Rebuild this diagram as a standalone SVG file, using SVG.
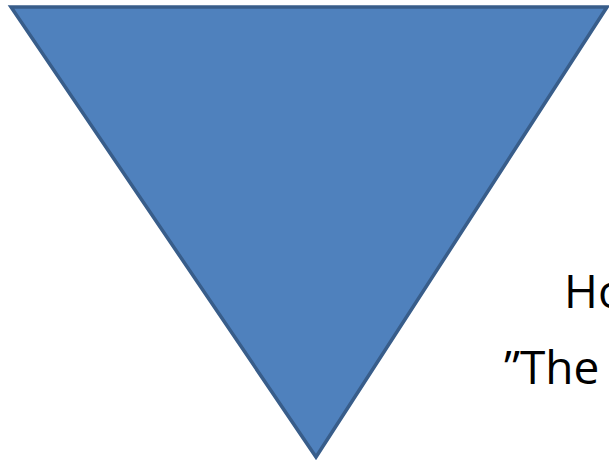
<svg xmlns="http://www.w3.org/2000/svg" width="609" height="462" viewBox="0 0 609 462">
<style>
.tri{fill:#4F81BD;stroke:#385D8A;stroke-width:3.5;stroke-linejoin:miter}
.t{font-family:"Open Sans","Liberation Sans",sans-serif;font-size:46px;fill:#000}
</style>
<rect width="609" height="462" fill="#fff"/>
<g id="triangle">
<polygon class="tri" points="11,7 607,7 316,457"/>
</g>
<g id="text">
<text class="t" x="564" y="308">Ho</text>
<text class="t" x="504" y="384">”The</text>
</g>
</svg>
